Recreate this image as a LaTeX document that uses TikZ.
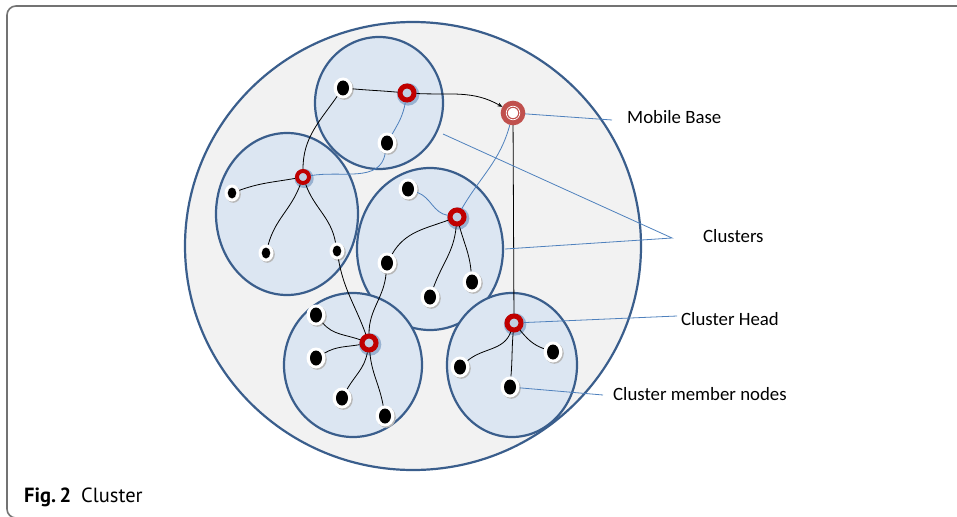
\documentclass[tikz,border=0pt]{standalone}
\usepackage{fontspec}
\setmainfont{Carlito}
\newfontfamily\capfont{PT Sans}
\usetikzlibrary{shapes.geometric,shadows,arrows.meta}
\definecolor{rimblue}{HTML}{3A5E8C}
\definecolor{paleblue}{HTML}{DCE6F2}
\definecolor{fieldgray}{HTML}{F2F2F2}
\definecolor{leaderblue}{HTML}{4F81BD}
\definecolor{headred}{HTML}{C00000}
\definecolor{basered}{HTML}{C0504D}
\definecolor{glow}{HTML}{8DA9CC}
\tikzset{
  field/.style={ellipse, draw=rimblue, fill=fieldgray, line width=2.2pt, inner sep=0},
  cluster/.style={ellipse, draw=rimblue, fill=paleblue, line width=2.2pt, inner sep=0},
  member/.style={ellipse, fill=white, minimum width=19pt, minimum height=21pt, inner sep=0,
    drop shadow={shadow xshift=1.3pt, shadow yshift=-1.3pt, fill=black!28, opacity=1},
    path picture={\fill[black] (path picture bounding box.center) ellipse (6pt and 7.5pt);}},
  small member/.style={member, minimum width=15pt, minimum height=17pt,
    path picture={\fill[black] (path picture bounding box.center) ellipse (4.3pt and 5.5pt);}},
  head/.style={circle, draw=headred, line width=5pt, fill=glow!55!white, minimum size=14pt, inner sep=0,
    drop shadow={shadow xshift=0.7pt, shadow yshift=-0.9pt, shadow scale=1.6, fill=glow, opacity=0.85}},
  small head/.style={head, line width=4pt, minimum size=12pt},
  base/.style={circle, draw=basered, line width=7pt, fill=white, minimum size=17.5pt, inner sep=0},
  link/.style={black, line width=0.8pt},
  blink/.style={leaderblue, line width=0.8pt},
  leader/.style={leaderblue, line width=0.8pt},
  lbl/.style={anchor=west, inner sep=0, font=\fontsize{18.8}{22}\selectfont},
  frame/.style={black!55, line width=1.6pt, rounded corners=9pt}
}
\begin{document}
\begin{tikzpicture}[x=1pt,y=-1pt]
\useasboundingbox (0,0) rectangle (957,516);
\draw[frame] (7,6) rectangle (990,518); %figure box

\node[field, minimum width=456pt, minimum height=448pt] (field) at (413,246) {};
\node[cluster, minimum width=128pt, minimum height=132pt] (c1) at (379,103) {}; %top
\node[cluster, minimum width=142pt, minimum height=162pt] (c2) at (287,214) {}; %left
\node[cluster, minimum width=146pt, minimum height=162pt] (c3) at (430,249) {}; %middle
\node[cluster, minimum width=138pt, minimum height=144pt] (c4) at (353,365) {}; %bottom left
\node[cluster, minimum width=130pt, minimum height=144pt] (c5) at (512,365) {}; %bottom right

% cluster 1
\node[member] (m1a) at (343,88) {};
\node[head] (h1) at (407,93) {};
\node[member] (m1b) at (387,143) {};
% cluster 2
\node[small head] (h2) at (303,177) {};
\node[small member] (m2a) at (232,193) {};
\node[small member] (m2b) at (266,253) {};
\node[small member] (m2c) at (337,251) {};
% cluster 3
\node[head] (h3) at (457,217) {};
\node[member] (m3a) at (408,189) {};
\node[member] (m3b) at (387,263) {};
\node[member] (m3c) at (472,282) {};
\node[member] (m3d) at (430,297) {};
% cluster 4
\node[head] (h4) at (369,343) {};
\node[member] (m4a) at (316,315) {};
\node[member] (m4b) at (316,358) {};
\node[member] (m4c) at (342,398) {};
\node[member] (m4d) at (385,416) {};
% cluster 5
\node[head] (h5) at (514,323) {};
\node[member] (m5a) at (460,367) {};
\node[member] (m5b) at (553,352) {};
\node[member] (m5c) at (510,387) {};
% mobile base
\node[base] (mb) at (513,113) {};
\draw[white, line width=0.7pt] (mb.center) circle (6.8pt);

\draw[link] (m1a) to[out=-5,in=175] (h1);
\draw[blink] (h1) to[out=-100,in=60] (m1b);
\draw[link, -{Stealth[length=5pt,width=4pt]}] (h1) to[out=-3,in=150] (mb);
\draw[link] (m1a) to[out=-125,in=90] (h2);
\draw[blink] (h2) to[out=10,in=-100] (m1b);
\draw[link] (h2) to[out=190,in=20] (m2a);
\draw[link] (h2) to[out=-110,in=75] (m2b);
\draw[link] (h2) to[out=-70,in=100] (m2c);
\draw[link] (m2c) to[out=-80,in=110] (h4);
\draw[blink] (h3) to[out=170,in=-20] (m3a);
\draw[blink] (h3) to[out=60,in=-105] (mb);
\draw[link] (h3) to[out=200,in=60] (m3b);
\draw[link] (h3) to[out=-75,in=95] (m3c);
\draw[link] (h3) to[out=-95,in=70] (m3d);
\draw[link] (m3b) to[out=-95,in=90] (h4);
\draw[link] (h4) to[out=160,in=-50] (m4a);
\draw[link] (h4) to[out=190,in=30] (m4b);
\draw[link] (h4) to[out=-100,in=60] (m4c);
\draw[link] (h4) to[out=-85,in=100] (m4d);
\draw[link] (mb) -- (h5);
\draw[link] (h5) to[out=-110,in=40] (m5a);
\draw[link] (h5) to[out=-50,in=160] (m5b);
\draw[link] (h5) to[out=-95,in=85] (m5c);

% labels
\node[lbl] (lbase) at (627,117) {Mobile Base};
\node[lbl] (lclusters) at (703,236) {Clusters};
\node[lbl] (lhead) at (681,319) {Cluster Head};
\node[lbl] (lmember) at (613,394) {Cluster member nodes};
\coordinate (tbase) at (612,120);
\coordinate (tclusters) at (672,238);
\coordinate (tc1) at (443,134);
\coordinate (tc3) at (505,249);
\coordinate (thead) at (677,316);
\coordinate (tmember) at (603,395);
\draw[leader] (mb) -- (tbase);
\draw[leader] (tc1) -- (tclusters) -- (tc3);
\draw[leader] (h5) -- (thead);
\draw[leader] (m5c) -- (tmember);

\node[anchor=base west, inner sep=0, font=\capfont\fontsize{20.5}{24}\selectfont] (caption) at (24,502) {\textbf{Fig.\,2}\hspace{10pt}Cluster};
\end{tikzpicture}
\end{document}
